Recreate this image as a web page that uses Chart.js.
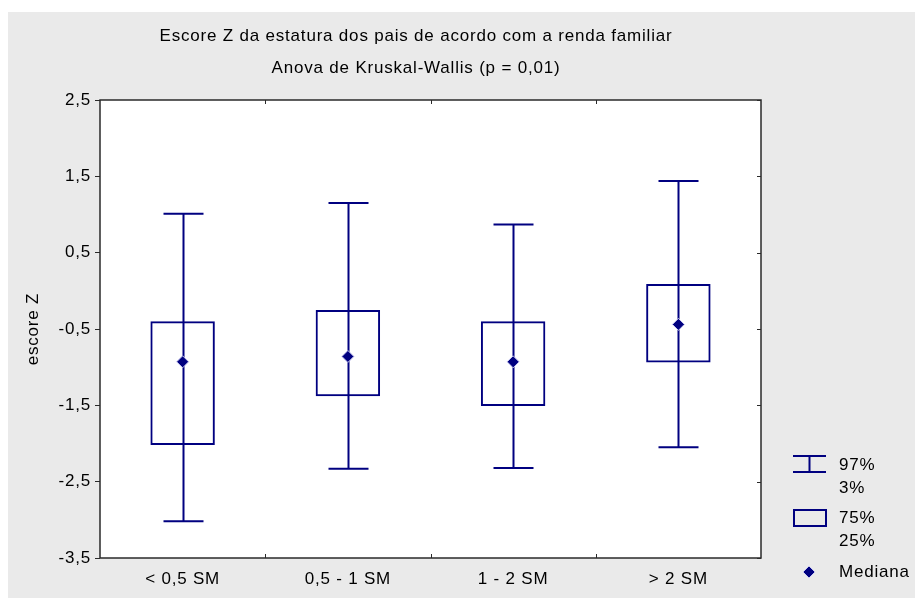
<!DOCTYPE html>
<html>
<head>
<meta charset="utf-8">
<script src="https://cdn.jsdelivr.net/npm/chart.js@4.4.1/dist/chart.umd.min.js"></script>
<style>
  html, body { margin: 0; padding: 0; background: #ffffff; }
  canvas { display: block; }
</style>
</head>
<body>
<canvas id="c" width="915" height="598"></canvas>
<script>
// Income groups (in minimum wages) and the percentiles of parents' height Z-score
const categories = ['< 0,5 SM', '0,5 - 1 SM', '1 - 2 SM', '> 2 SM'];
const p3      = [-3.02, -2.33, -2.32, -2.05];
const q25     = [-2.02, -1.38, -1.51, -0.94];
const medians = [-0.93, -0.86, -0.93, -0.44];
const q75     = [-0.40, -0.25, -0.40,  0.09];
const p97     = [ 1.01,  1.15,  0.87,  1.44];
const yTicks  = [-3.5, -2.5, -1.5, -0.5, 0.5, 1.5, 2.5];

const titleLines = [
  'Escore Z da estatura dos pais de acordo com a renda familiar',
  'Anova de Kruskal-Wallis (p = 0,01)'
];
const yTitle = 'escore Z';
const legendItems = [['97%', '3%'], ['75%', '25%'], ['Mediana']];

const NAVY = '#000080';
const FONT = '"Liberation Sans", Arial, sans-serif';
const FONT_SIZE = 17;
const SPACING = '0.8px';
const fmt = v => v.toFixed(1).replace('.', ',');

// Background panel, white plot area, frame with inward ticks, titles and legend
const decor = {
  id: 'decor',
  beforeDraw(chart) {
    const { ctx, chartArea: a } = chart;
    ctx.save();
    ctx.fillStyle = '#ffffff';
    ctx.fillRect(0, 0, chart.width, chart.height);
    ctx.fillStyle = '#eaeaea';
    ctx.fillRect(8, 12, chart.width - 8, chart.height - 12);
    ctx.fillStyle = '#ffffff';
    ctx.fillRect(a.left, a.top, a.right - a.left, a.bottom - a.top);
    ctx.restore();
    // slightly wider text for every label drawn afterwards
    ctx.letterSpacing = SPACING;
  },
  afterDraw(chart) {
    const { ctx, chartArea: a, scales } = chart;
    const xs = scales.x, ys = scales.y;
    ctx.save();
    ctx.letterSpacing = SPACING;
    // frame
    ctx.strokeStyle = '#2a2a2a';
    ctx.lineWidth = 1.5;
    ctx.strokeRect(a.left, a.top, a.right - a.left, a.bottom - a.top);
    // inward ticks at category boundaries (top and bottom)
    ctx.lineWidth = 1;
    for (let i = 1; i < categories.length; i++) {
      const x = Math.round((xs.getPixelForValue(i - 1) + xs.getPixelForValue(i)) / 2) + 0.5;
      ctx.beginPath();
      ctx.moveTo(x, a.bottom); ctx.lineTo(x, a.bottom - 4);
      ctx.moveTo(x, a.top); ctx.lineTo(x, a.top + 4);
      ctx.stroke();
    }
    // inward ticks on the right edge
    yTicks.forEach(v => {
      const y = Math.round(ys.getPixelForValue(v)) + 0.5;
      ctx.beginPath();
      ctx.moveTo(a.right, y); ctx.lineTo(a.right - 4, y);
      ctx.stroke();
    });

    // titles
    ctx.fillStyle = '#000';
    ctx.font = FONT_SIZE + 'px ' + FONT;
    ctx.textAlign = 'center';
    ctx.textBaseline = 'middle';
    ctx.fillText(titleLines[0], 416, 36);
    ctx.fillText(titleLines[1], 416, 68);

    // y-axis title
    ctx.save();
    ctx.translate(33, (a.top + a.bottom) / 2);
    ctx.rotate(-Math.PI / 2);
    ctx.fillText(yTitle, 0, 0);
    ctx.restore();

    // legend
    ctx.strokeStyle = NAVY;
    ctx.lineWidth = 2;
    ctx.beginPath();
    ctx.moveTo(793, 456); ctx.lineTo(826, 456);
    ctx.moveTo(793, 472); ctx.lineTo(826, 472);
    ctx.moveTo(809.5, 456); ctx.lineTo(809.5, 472);
    ctx.stroke();
    ctx.strokeRect(794, 510, 32, 16);
    ctx.beginPath();
    ctx.moveTo(809, 566); ctx.lineTo(815, 572); ctx.lineTo(809, 578); ctx.lineTo(803, 572);
    ctx.closePath();
    ctx.fillStyle = NAVY;
    ctx.fill();
    ctx.strokeStyle = '#c8c8f0';
    ctx.lineWidth = 1;
    ctx.stroke();

    ctx.fillStyle = '#000';
    ctx.textAlign = 'left';
    ctx.fillText(legendItems[0][0], 839, 465);
    ctx.fillText(legendItems[0][1], 839, 488);
    ctx.fillText(legendItems[1][0], 839, 518);
    ctx.fillText(legendItems[1][1], 839, 541);
    ctx.fillText(legendItems[2][0], 839, 572);
    ctx.restore();
  }
};

// Whiskers from the 3rd to the 97th percentile, with caps
const whiskers = {
  id: 'whiskers',
  beforeDatasetsDraw(chart) {
    const { ctx, scales } = chart;
    const xs = scales.x, ys = scales.y;
    ctx.save();
    ctx.strokeStyle = NAVY;
    ctx.lineWidth = 2;
    categories.forEach((c, i) => {
      const x = Math.round(xs.getPixelForValue(i)) + 0.5;
      const yLo = ys.getPixelForValue(p3[i]);
      const yHi = ys.getPixelForValue(p97[i]);
      ctx.beginPath();
      ctx.moveTo(x, yLo); ctx.lineTo(x, yHi);
      ctx.moveTo(x - 20, yLo); ctx.lineTo(x + 20, yLo);
      ctx.moveTo(x - 20, yHi); ctx.lineTo(x + 20, yHi);
      ctx.stroke();
    });
    ctx.restore();
  }
};

new Chart(document.getElementById('c'), {
  type: 'bar',
  data: {
    labels: categories,
    datasets: [
      {
        type: 'bar',
        label: '75% / 25%',
        data: q25.map((v, i) => [v, q75[i]]),
        backgroundColor: 'rgba(0,0,0,0)',
        borderColor: NAVY,
        borderWidth: 2,
        borderSkipped: false,
        categoryPercentage: 1,
        barPercentage: 0.39,
        order: 2
      },
      {
        type: 'line',
        label: 'Mediana',
        data: medians,
        showLine: false,
        pointStyle: 'rectRot',
        pointRadius: 6,
        pointBackgroundColor: NAVY,
        pointBorderColor: '#c8c8f0',
        pointBorderWidth: 1,
        order: 1
      }
    ]
  },
  options: {
    responsive: false,
    animation: false,
    events: [],
    layout: { padding: { top: 100, right: 154, bottom: 0, left: 0 } },
    plugins: { legend: { display: false }, tooltip: { enabled: false }, title: { display: false } },
    scales: {
      x: {
        offset: true,
        grid: { display: false, drawTicks: false },
        border: { display: false },
        ticks: { color: '#000', font: { size: FONT_SIZE, family: FONT }, padding: 11 },
        afterFit(s) { s.height = 40; }
      },
      y: {
        min: -3.5,
        max: 2.5,
        afterBuildTicks(s) { s.ticks = yTicks.map(v => ({ value: v })); },
        ticks: { color: '#000', font: { size: FONT_SIZE, family: FONT }, padding: 4, callback: v => fmt(v) },
        grid: { drawOnChartArea: false, drawTicks: true, tickLength: 5, color: '#2a2a2a' },
        border: { display: false },
        afterFit(s) { s.width = 100; }
      }
    }
  },
  plugins: [decor, whiskers]
});
</script>
</body>
</html>
